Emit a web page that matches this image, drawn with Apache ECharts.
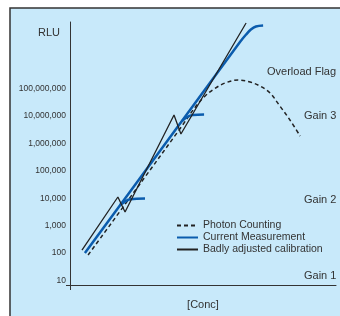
<!DOCTYPE html>
<html>
<head>
<meta charset="utf-8">
<script src="https://cdn.jsdelivr.net/npm/echarts@6/dist/echarts.min.js"></script>
<style>
  html, body { margin: 0; padding: 0; background: #fff; }
  #main { width: 340px; height: 316px; }
</style>
</head>
<body>
<div id="main"></div>
<script>
// [Conc] in arbitrary units, RLU
var photonX = [6.8, 27.1, 41.4, 47.4, 50.8, 54.1, 58.3, 63.2, 67.7, 71.4, 75.2, 78.9, 82.7, 86.5];
var photonY = [124, 62500, 5.15e6, 3.41e7, 7.91e7, 1.42e8, 2.36e8, 3.03e8, 2.56e8, 1.83e8, 1.02e8, 3.41e7, 1.05e7, 2.74e6];

var currentX = [5.6, 33.8, 63.9, 66.2, 68.0, 69.9, 72.6];
var currentY = [147, 7.78e5, 7.4e9, 1.39e10, 2.11e10, 2.72e10, 2.96e10];
// saturation of the lower gains
var gain1X = [18.8, 20.7, 22.6, 28.2];
var gain1Y = [8320, 11100, 13400, 14400];
var gain2X = [42.1, 44.0, 46.2, 50.4];
var gain2Y = [9.66e6, 1.35e7, 1.60e7, 1.67e7];

var badX = [4.5, 18.0, 20.7, 39.1, 41.7, 66.2];
var badY = [189, 16300, 4610, 1.60e7, 3.24e6, 3.65e10];

var yTicks = [1, 2, 3, 4, 5, 6, 7, 8]; // log10 of labelled ticks

function pts(xs, ys) {
    return xs.map(function (x, i) { return [x, Math.log10(ys[i])]; });
}

var chart = echarts.init(document.getElementById('main'));
var font = '"Liberation Sans", "DejaVu Sans", sans-serif';
var txt = '#333';

var option = {
    backgroundColor: '#fff',
    animation: false,
    textStyle: { fontFamily: font },
    grid: { left: 70, right: 4, top: 22, bottom: 31 },
    graphic: [
        { type: 'rect', z: -10, shape: { x: 10, y: 8, width: 340, height: 320 },
          style: { fill: '#c8e9fa', stroke: '#333', lineWidth: 1.5 } },
        { type: 'text', left: 38, top: 27, style: { text: 'RLU', font: '11px ' + font, fill: txt } },
        { type: 'text', left: 267, top: 66, style: { text: 'Overload Flag', font: '11px ' + font, fill: txt } },
        { type: 'text', left: 304, top: 110, style: { text: 'Gain 3', font: '11px ' + font, fill: txt } },
        { type: 'text', left: 304, top: 194, style: { text: 'Gain 2', font: '11px ' + font, fill: txt } },
        { type: 'text', left: 304, top: 270, style: { text: 'Gain 1', font: '11px ' + font, fill: txt } },
        // little overhang of the axes at the origin
        { type: 'line', shape: { x1: 70.5, y1: 285, x2: 70.5, y2: 290 }, style: { stroke: '#333', lineWidth: 1 } },
        { type: 'line', shape: { x1: 66, y1: 285.5, x2: 70, y2: 285.5 }, style: { stroke: '#333', lineWidth: 1 } }
    ],
    legend: {
        orient: 'vertical',
        left: 176,
        top: 220,
        padding: 0,
        itemWidth: 21,
        itemHeight: 10,
        itemGap: 1,
        itemStyle: { color: 'transparent', borderWidth: 0 },
        textStyle: { fontSize: 10.5, color: txt, fontFamily: font },
        data: ['Photon Counting', 'Current Measurement', 'Badly adjusted calibration']
    },
    xAxis: {
        type: 'value',
        min: 0,
        max: 100,
        name: '[Conc]',
        nameLocation: 'middle',
        nameGap: 14,
        nameTextStyle: { fontSize: 11, color: txt },
        axisLine: { lineStyle: { color: '#333', width: 1 } },
        axisTick: { show: false },
        axisLabel: { show: false },
        splitLine: { show: false }
    },
    yAxis: {
        type: 'value',
        min: 1,
        max: 10.6,
        interval: 1,
        axisLine: { show: true, lineStyle: { color: '#333', width: 1 } },
        axisTick: { show: false },
        splitLine: { show: false },
        axisLabel: {
            margin: 4,
            fontSize: 8.5,
            color: txt,
            verticalAlign: 'bottom',
            formatter: function (v) {
                return yTicks.indexOf(v) >= 0 ? Math.pow(10, v).toLocaleString('en-US') : '';
            }
        }
    },
    series: [
        {
            name: 'Photon Counting', type: 'line', symbol: 'none', smooth: 0.35,
            lineStyle: { color: '#222', width: 1.5, type: [4, 3] },
            itemStyle: { color: '#222' },
            data: pts(photonX, photonY)
        },
        {
            name: 'Current Measurement', type: 'line', symbol: 'none', smooth: 0.35,
            lineStyle: { color: '#0b5cad', width: 2.5 },
            itemStyle: { color: '#0b5cad' },
            data: pts(currentX, currentY)
        },
        {
            name: 'gain1', type: 'line', symbol: 'none', smooth: 0.4,
            lineStyle: { color: '#0b5cad', width: 2.5 },
            data: pts(gain1X, gain1Y)
        },
        {
            name: 'gain2', type: 'line', symbol: 'none', smooth: 0.4,
            lineStyle: { color: '#0b5cad', width: 2.5 },
            data: pts(gain2X, gain2Y)
        },
        {
            name: 'Badly adjusted calibration', type: 'line', symbol: 'none',
            lineStyle: { color: '#222', width: 1.3 },
            itemStyle: { color: '#222' },
            data: pts(badX, badY)
        }
    ]
};
chart.setOption(option);
</script>
</body>
</html>
